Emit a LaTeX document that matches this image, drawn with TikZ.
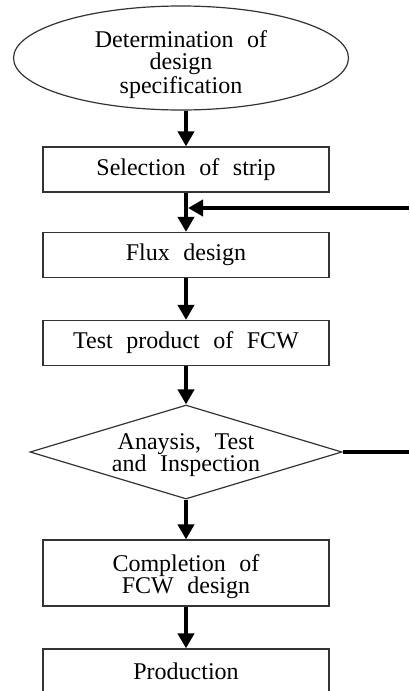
\documentclass[tikz,border=0pt]{standalone}
\usepackage{fontspec}
\setmainfont{Liberation Serif}
\usetikzlibrary{arrows.meta,positioning,shapes.geometric}

\begin{document}
% wider word spaces, as in the scanned chart
{\fontsize{12}{11}\selectfont\fontdimen2\font=6.8pt}
\begin{tikzpicture}[x=0.5pt, y=-0.5pt,
    every node/.style={font=\fontsize{12}{11}\selectfont, align=center},
    stepbox/.style={draw=black!80, line width=0.6pt, minimum width=143pt, minimum height=22.5pt, inner sep=0pt},
    flow/.style={line width=2pt, -{Triangle[width=8pt,length=7.5pt]}},
    thickline/.style={line width=2pt}]
    \useasboundingbox (0,0) rectangle (409,691);
    \clip (0,0) rectangle (409,691);
    % Process steps
    \node[ellipse, draw=black!80, line width=0.6pt, minimum width=167.5pt, minimum height=52pt, inner sep=0pt] (spec) at (181,58) {};
    \node (specText) at (181,65) {Determination of\\design\\specification};
    \node[stepbox] (strip) at (186,169.5) {Selection of strip};
    \node[stepbox] (flux) at (186,255) {Flux design};
    \node[stepbox] (test) at (186,343) {Test product of FCW};
    \node[diamond, draw=black!80, line width=0.6pt, aspect=3.3, minimum width=156pt, minimum height=47pt, inner sep=0pt] (check) at (186,452) {};
    \node (checkText) at (186,455) {Anaysis, Test\\and Inspection};
    \node[stepbox, minimum height=33pt] (done) at (186,573) {};
    \node (doneText) at (186,577) {Completion of\\FCW design};
    \node[stepbox] (prod) at (186,671.5) {Production};
    % Main flow
    \draw[flow] (spec.south -| strip.north) -- (strip.north);
    \draw[flow] (strip) -- (flux);
    \draw[flow] (flux) -- (test);
    \draw[flow] (test) -- (check);
    \draw[flow] (check) -- (done);
    \draw[flow] (done) -- (prod);
    % Feedback loop
    \coordinate (back) at (409,208);
    \coordinate (loop) at (409,452);
    \draw[thickline] (check.east) -- (loop);
    \draw[flow, shorten >=1pt] (back) -- (back -| strip.south);
  \end{tikzpicture}
\end{document}
